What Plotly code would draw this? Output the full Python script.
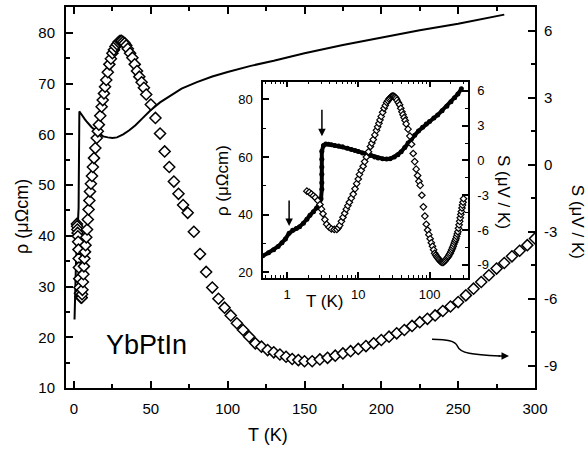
import math
import plotly.graph_objects as go

# ---------------- data ----------------
# resistivity rho(T), micro-ohm cm
rho_T = [0.35, 0.46, 0.55, 0.65, 0.75, 0.85, 0.95, 1.07, 1.2, 1.35, 1.5, 1.7, 1.9,
         2.1, 2.35, 2.6, 2.85, 3.0, 3.08, 3.08, 3.08, 3.08, 3.08, 3.08,
         3.25, 3.5, 3.8, 4.2, 4.7, 5.3, 6, 7, 8, 9, 10, 11.5, 13, 15, 17, 19,
         22, 25, 28, 32, 36, 40, 45, 50, 56, 62, 70, 80, 90, 100, 115,
         130, 150, 175, 200, 225, 250, 280]
rho = [23.5, 25.8, 26.8, 27.8, 29.0, 30.3, 31.6, 33.6, 34.6, 35.2, 35.8, 37.0, 38.4,
       39.8, 41.0, 42.3, 43.6, 45.5, 48.8, 51.1, 54.0, 56.5, 59.2, 62.0,
       64.0, 64.5, 64.4, 64.2, 64.0, 63.8, 63.5, 63.0, 62.6, 62.2, 61.9, 61.4, 61.0, 60.5, 60.0, 59.6,
       59.4, 59.3, 59.4, 60.0, 60.8, 61.8, 63.3, 64.8, 66.3, 67.5, 69.0, 70.3, 71.4, 72.3, 73.5,
       74.5, 76.0, 77.6, 79.1, 80.5, 81.8, 83.6]

# thermopower S(T), microvolt / K
S_T = [1.9, 2.05, 2.2, 2.35, 2.5, 2.7, 2.9, 3.05, 3.2, 3.4, 3.6, 3.9, 4.2, 4.6,
       5.0, 5.25, 5.5, 5.8, 6.1, 6.45, 6.8, 7.15, 7.5, 8.0, 8.5, 9.0, 9.5, 10.0,
       10.4, 11.0, 11.7, 12.3, 13.0, 13.9, 14.8, 15.5, 16.2, 17.1, 18.0, 18.7,
       19.5, 20.2, 21.0, 22.0, 23.0, 24.0, 25.0, 26.0, 27.0, 28.0, 29.0, 30.0,
       31.0, 32.0, 33.0, 34.0, 35.0, 36.5, 38.0, 39.5, 41.0, 42.5, 44.0, 45.5,
       47.0, 50.0, 53.0, 56.0, 59.0, 62.0,
       65.0, 68.0, 71.0, 74.0, 78.0, 82.0, 86.0, 90.0, 94.0, 98.0, 102, 106,
       110, 114, 118, 122, 126, 130, 134, 138, 142, 146, 150, 155, 160, 165,
       170, 175, 180, 185, 190, 195, 200, 205, 210, 215, 220, 225, 230, 235,
       240, 245, 250, 255, 260, 265, 270, 275, 280, 285, 290, 295, 300]
S = [-2.65, -2.75, -2.9, -3.05, -3.2, -3.45, -3.8, -4.2, -4.6, -5.1, -5.5, -5.75, -5.9, -5.95,
     -5.95, -5.8, -5.6, -5.25, -4.9, -4.55, -4.2, -3.9, -3.6, -3.25, -2.9, -2.45, -2.0, -1.6,
     -1.2, -0.85, -0.5, -0.1, 0.3, 0.75, 1.2, 1.5, 1.8, 2.2, 2.6, 2.9,
     3.2, 3.5, 3.8, 4.15, 4.5, 4.75, 5.0, 5.15, 5.3, 5.4, 5.5, 5.55,
     5.55, 5.5, 5.45, 5.35, 5.2, 5.0, 4.8, 4.5, 4.2, 3.95, 3.7, 3.45,
     3.15, 2.7, 2.1, 1.4, 0.6, -0.1,
     -0.75, -1.3, -1.8, -2.15, -3.0, -4.0, -4.8, -5.5, -6.0, -6.4, -6.75, -7.1,
     -7.4, -7.7, -8.0, -8.15, -8.3, -8.4, -8.5, -8.6, -8.7, -8.75, -8.8, -8.8, -8.72, -8.65,
     -8.55, -8.45, -8.35, -8.25, -8.12, -8.0, -7.85, -7.7, -7.55, -7.4, -7.22, -7.05, -6.9, -6.75,
     -6.55, -6.35, -6.15, -5.85, -5.55, -5.25, -4.95, -4.65, -4.4, -4.1, -3.85, -3.6, -3.3]

main_x_ticks = [0, 50, 100, 150, 200, 250, 300]
main_rho_ticks = [10, 20, 30, 40, 50, 60, 70, 80]
main_S_ticks = [-9, -6, -3, 0, 3, 6]
inset_x_ticks = [1, 10, 100]
inset_rho_ticks = [20, 40, 60, 80]
inset_S_ticks = [-9, -6, -3, 0, 3, 6]

# ---------------- layout geometry ----------------
W, H = 587, 449
L, R, TOP, BOT = 66, 535, 5, 388


def px(x):
    return (x - L) / (R - L)


def py(y):
    return (BOT - y) / (BOT - TOP)


FONT = "Liberation Sans, Arial, Helvetica, sans-serif"
BLACK = "black"

fig = go.Figure()

# main panel
fig.add_trace(go.Scatter(x=rho_T, y=rho, mode="lines", xaxis="x", yaxis="y",
                         line=dict(color=BLACK, width=2), showlegend=False))
fig.add_trace(go.Scatter(x=S_T, y=S, mode="markers", xaxis="x", yaxis="y2",
                         marker=dict(symbol="diamond", size=8.5, color="white",
                                     line=dict(color=BLACK, width=1.5)),
                         showlegend=False))
# inset
fig.add_trace(go.Scatter(x=rho_T, y=rho, mode="lines+markers", xaxis="x3", yaxis="y3",
                         line=dict(color=BLACK, width=4),
                         marker=dict(symbol="circle", size=5, color=BLACK),
                         showlegend=False))
fig.add_trace(go.Scatter(x=S_T, y=S, mode="markers", xaxis="x3", yaxis="y4",
                         marker=dict(symbol="diamond", size=5, color="white",
                                     line=dict(color=BLACK, width=1.2)),
                         showlegend=False))


def ax_common(**kw):
    d = dict(showline=True, linecolor=BLACK, showgrid=False, zeroline=False,
             ticks="inside", tickcolor=BLACK, tickwidth=1.5,
             tickfont=dict(family=FONT, size=15, color=BLACK))
    d.update(kw)
    return d


def fmt(v):
    return str(v).replace("\u2212", "-")


inset_minor_x = [0.5, 0.6, 0.7, 0.8, 0.9, 2, 3, 4, 5, 6, 7, 8, 9,
                 20, 30, 40, 50, 60, 70, 80, 90, 200, 300]

fig.update_layout(
    width=W, height=H,
    margin=dict(l=L, r=W - R, t=TOP, b=H - BOT, pad=0),
    paper_bgcolor="white", plot_bgcolor="white",
    showlegend=False,
    xaxis=ax_common(domain=[0, 1], anchor="y", range=[-5.2, 300], linewidth=2,
                    tickmode="array", tickvals=main_x_ticks, ticklen=7, mirror="ticks",
                    minor=dict(tickvals=[25, 75, 125, 175, 225, 275], ticks="inside",
                               ticklen=4, tickwidth=1.5, tickcolor=BLACK),
                    ticklabelstandoff=6),
    yaxis=ax_common(domain=[0, 1], anchor="x", range=[10, 85.1], linewidth=2,
                    tickmode="array", tickvals=main_rho_ticks, ticklen=7,
                    minor=dict(tickvals=[15, 25, 35, 45, 55, 65, 75, 85], ticks="inside",
                               ticklen=4, tickwidth=1.5, tickcolor=BLACK),
                    ticklabelstandoff=6),
    yaxis2=ax_common(overlaying="y", side="right", anchor="x", range=[-10, 7.07], linewidth=2,
                     tickmode="array", tickvals=main_S_ticks,
                     ticktext=[fmt(v) for v in main_S_ticks], ticklen=7,
                     minor=dict(tickvals=[-7.5, -4.5, -1.5, 1.5, 4.5], ticks="inside",
                                ticklen=4, tickwidth=1.5, tickcolor=BLACK),
                     ticklabelstandoff=4),
    xaxis3=ax_common(domain=[px(263), px(468)], anchor="y3", type="log",
                     range=[-0.337, 2.54], linewidth=1.5, mirror="ticks",
                     tickmode="array", tickvals=inset_x_ticks,
                     ticktext=[str(v) for v in inset_x_ticks], ticklen=6,
                     tickfont=dict(family=FONT, size=13, color=BLACK),
                     minor=dict(tickvals=inset_minor_x, ticks="inside", ticklen=3,
                                tickwidth=1.2, tickcolor=BLACK),
                     ticklabelstandoff=4),
    yaxis3=ax_common(domain=[py(277), py(80)], anchor="x3", range=[18.2, 86.1],
                     linewidth=1.5, tickmode="array", tickvals=inset_rho_ticks, ticklen=6,
                     tickfont=dict(family=FONT, size=13, color=BLACK),
                     minor=dict(tickvals=[30, 50, 70], ticks="inside", ticklen=3,
                                tickwidth=1.2, tickcolor=BLACK),
                     ticklabelstandoff=6),
    yaxis4=ax_common(overlaying="y3", side="right", anchor="x3", range=[-10.1, 6.8],
                     linewidth=1.5, tickmode="array", tickvals=inset_S_ticks,
                     ticktext=[fmt(v) for v in inset_S_ticks], ticklen=6,
                     tickfont=dict(family=FONT, size=13, color=BLACK),
                     minor=dict(tickvals=[-7.5, -4.5, -1.5, 1.5, 4.5], ticks="inside",
                                ticklen=3, tickwidth=1.2, tickcolor=BLACK),
                     ticklabelstandoff=5),
)

# white background behind inset
fig.add_shape(type="rect", xref="x3 domain", yref="y3 domain", x0=0, x1=1, y0=0, y1=1,
              fillcolor="white", line=dict(width=0), layer="below")

# curved arrow in the main panel
p0 = (px(432), py(339))
c1 = (px(447), py(339.5)); c2 = (px(455), py(340)); p1 = (px(457.5), py(346))
c3 = (px(460), py(353)); c4 = (px(472), py(354.5)); p2 = (px(500), py(355.8))
path = "M {},{} C {},{} {},{} {},{} C {},{} {},{} {},{}".format(
    *p0, *c1, *c2, *p1, *c3, *c4, *p2)
fig.add_shape(type="path", xref="paper", yref="paper", path=path,
              line=dict(color=BLACK, width=1.5))

ann = []


def text(t, x, y, size, angle=0):
    ann.append(dict(text=t, x=px(x), y=py(y), xref="paper", yref="paper", showarrow=False,
                    textangle=angle, xanchor="center", yanchor="middle",
                    font=dict(family=FONT, size=size, color=BLACK)))


text("T (K)", 268, 435, 18)
text("ρ (μΩcm)", 22, 216, 18, -90)
text("S (μV / K)", 577, 221, 17, 90)
text("T (K)", 324, 301, 17)
text("ρ (μΩcm)", 222, 180, 17, -90)
text("S (μV / K)", 504, 191, 17, 90)
text("YbPtIn", 146, 345, 27)

# arrow head of the curved arrow
ann.append(dict(text="", x=px(509), y=py(355.8), xref="paper", yref="paper",
                ax=-12, ay=0, axref="pixel", ayref="pixel", showarrow=True,
                arrowhead=2, arrowsize=1, arrowwidth=1.5, arrowcolor=BLACK))
# arrows in the inset marking transitions
ann.append(dict(text="", x=math.log10(1.07), y=36.1, xref="x3", yref="y3",
                ax=0, ay=-27, showarrow=True, arrowhead=2, arrowsize=1,
                arrowwidth=1.5, arrowcolor=BLACK))
ann.append(dict(text="", x=math.log10(3.09), y=67.2, xref="x3", yref="y3",
                ax=0, ay=-28, showarrow=True, arrowhead=2, arrowsize=1,
                arrowwidth=1.5, arrowcolor=BLACK))
fig.update_layout(annotations=ann)

fig.write_html("out.html")
